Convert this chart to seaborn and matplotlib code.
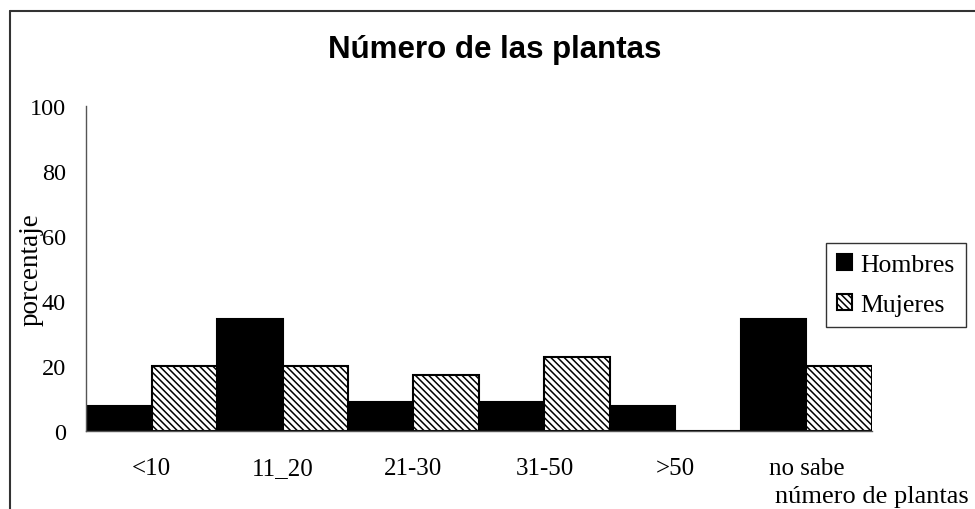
import pandas as pd
import numpy as np
import matplotlib
matplotlib.use("Agg")
import matplotlib.pyplot as plt
from matplotlib.lines import Line2D
import seaborn as sns

# datos
categorias = ['<10', '11_20', '21-30', '31-50', '>50', 'no sabe']
hombres = [7.7, 34.6, 8.8, 8.8, 7.7, 34.6]
mujeres = [20.0, 20.0, 17.1, 22.9, 0.0, 20.0]
y_ticks = [0, 20, 40, 60, 80, 100]

df = pd.DataFrame({
    'categoria': categorias * 2,
    'porcentaje': hombres + mujeres,
    'sexo': ['Hombres'] * len(categorias) + ['Mujeres'] * len(categorias),
})

sns.set_style("white")
plt.rcParams['font.family'] = ['Liberation Serif', 'DejaVu Serif']
plt.rcParams['text.color'] = 'black'
plt.rcParams['axes.labelcolor'] = 'black'
plt.rcParams['xtick.labelcolor'] = 'black'
plt.rcParams['ytick.labelcolor'] = 'black'
plt.rcParams['hatch.linewidth'] = 1.1
plt.rcParams['hatch.color'] = '#3a3a3a'

fig = plt.figure(figsize=(9.75, 5.1), dpi=100)
ax = fig.add_axes([86 / 975, 78 / 510, 786 / 975, 325 / 510])

sns.barplot(data=df, x='categoria', y='porcentaje', hue='sexo', order=categorias,
            hue_order=['Hombres', 'Mujeres'], width=1.0, gap=0, dodge=True,
            palette=['black', 'white'], edgecolor='black', linewidth=1.5,
            saturation=1, ax=ax, legend=False)

for bar in ax.containers[1]:
    bar.set_hatch('\\\\\\\\\\')
    bar.set_facecolor('white')
    bar.set_edgecolor('black')

ax.set_xlim(-0.5, len(categorias) - 0.5)
ax.set_ylim(0, 100)
ax.set_yticks(y_ticks)
ax.tick_params(axis='y', labelsize=17.5, length=6.5, width=1, color='#555555', direction='out', pad=8)
ax.tick_params(axis='x', which='major', labelsize=18, length=0, pad=31)
for lbl in ax.get_xticklabels():
    lbl.set_va('baseline')
ax.set_xticks(np.arange(-0.5, len(categorias)), minor=True)
ax.tick_params(axis='x', which='minor', length=6.5, width=1, color='#555555', direction='out')

for s in ['top', 'right']:
    ax.spines[s].set_visible(False)
for s in ['left', 'bottom']:
    ax.spines[s].set_color('#555555')
    ax.spines[s].set_linewidth(1)

ax.set_ylabel('porcentaje', fontsize=19.5)
ax.yaxis.set_label_coords(-0.054, 0.5)
ax.set_xlabel('número de plantas', fontsize=19, ha='right', va='baseline')
ax.xaxis.set_label_coords(1.1234, -0.218)

fig.text(495 / 975, 1 - 50 / 510, 'Número de las plantas', family=['Liberation Sans', 'DejaVu Sans'],
         fontsize=22.5, fontweight='bold', ha='center', va='center', color='black')

handles = [ax.containers[0][0], ax.containers[1][0]]
leg = ax.legend(handles, ['Hombres', 'Mujeres'], loc='upper left',
                bbox_to_anchor=(826 / 975, 1 - 244 / 510), bbox_transform=fig.transFigure,
                fontsize=18.5, frameon=True, fancybox=False, shadow=False,
                handlelength=0.58, handleheight=0.58, handletextpad=0.35,
                borderpad=0.42, labelspacing=0.71, borderaxespad=0)
leg.get_frame().set_edgecolor('black')
leg.get_frame().set_linewidth(1)

# marco exterior
fig.add_artist(Line2D([10 / 975, 10 / 975], [0, 1 - 12 / 510], color='#333333', lw=1.5))
fig.add_artist(Line2D([10 / 975, 1], [1 - 12 / 510, 1 - 12 / 510], color='#333333', lw=1.5))

fig.savefig('out.png', dpi=100)
